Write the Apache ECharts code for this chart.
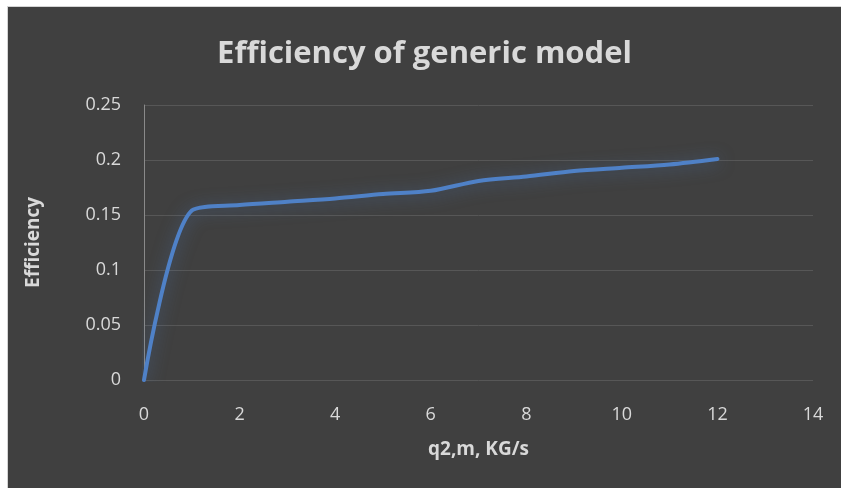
<!DOCTYPE html>
<html>
<head>
<meta charset="utf-8">
<script src="https://cdn.jsdelivr.net/npm/echarts@6/dist/echarts.min.js"></script>
<style>
  html, body { margin: 0; padding: 0; background: #ffffff; }
  #frame {
    position: absolute; left: 7px; top: 6px;
    width: 834px; height: 482px;
    border-left: 1px solid #d4d4d4; border-top: 1px solid #d4d4d4;
    box-sizing: border-box;
  }
  #chart { width: 833px; height: 481px; }
</style>
</head>
<body>
<div id="frame"><div id="chart"></div></div>
<script>
// flow rate (x) and efficiency (y)
const flowRate = [0, 1, 2, 3, 4, 5, 6, 7, 8, 9, 10, 11, 12];
const efficiency = [0, 0.154, 0.159, 0.162, 0.165, 0.169, 0.172, 0.181, 0.185, 0.19, 0.193, 0.196, 0.201];

const xTicks = { min: 0, max: 14, interval: 2 };
const yTicks = { min: 0, max: 0.25, interval: 0.05 };

const textColor = '#d9d9d9';
const fontFamily = '"Open Sans", "Liberation Sans", sans-serif';

const chart = echarts.init(document.getElementById('chart'));

chart.setOption({
  backgroundColor: '#404040',
  animation: false,
  title: {
    text: 'Efficiency of generic model',
    left: 'center',
    top: 27,
    textStyle: { color: textColor, fontSize: 31, fontWeight: 'bold', fontFamily },
  },
  grid: { left: 136, right: 28, top: 98, bottom: 108 },
  xAxis: {
    type: 'value',
    ...xTicks,
    name: 'q2,m, KG/s',
    nameLocation: 'middle',
    nameGap: 60,
    nameTextStyle: { color: textColor, fontSize: 19, fontWeight: 'bold', fontFamily },
    axisLine: { show: false },
    axisTick: { show: false },
    splitLine: { show: false },
    axisLabel: { color: textColor, fontSize: 18, margin: 26, fontFamily },
  },
  yAxis: {
    type: 'value',
    ...yTicks,
    name: 'Efficiency',
    nameLocation: 'middle',
    nameGap: 101,
    nameTextStyle: { color: textColor, fontSize: 19, fontWeight: 'bold', fontFamily },
    axisLine: { show: true, lineStyle: { color: '#8a8a8a', width: 1 } },
    axisTick: { show: false },
    splitLine: { show: true, lineStyle: { color: '#575757', width: 1 } },
    axisLabel: { color: textColor, fontSize: 18, margin: 23, fontFamily },
  },
  series: [
    {
      type: 'line',
      data: flowRate.map((x, i) => [x, efficiency[i]]),
      smooth: 0.3,
      showSymbol: false,
      lineStyle: {
        color: '#4f81c7',
        width: 4,
        cap: 'round',
        shadowBlur: 16,
        shadowColor: 'rgba(79,129,199,0.5)',
        shadowOffsetY: 2,
      },
    },
  ],
});
</script>
</body>
</html>
